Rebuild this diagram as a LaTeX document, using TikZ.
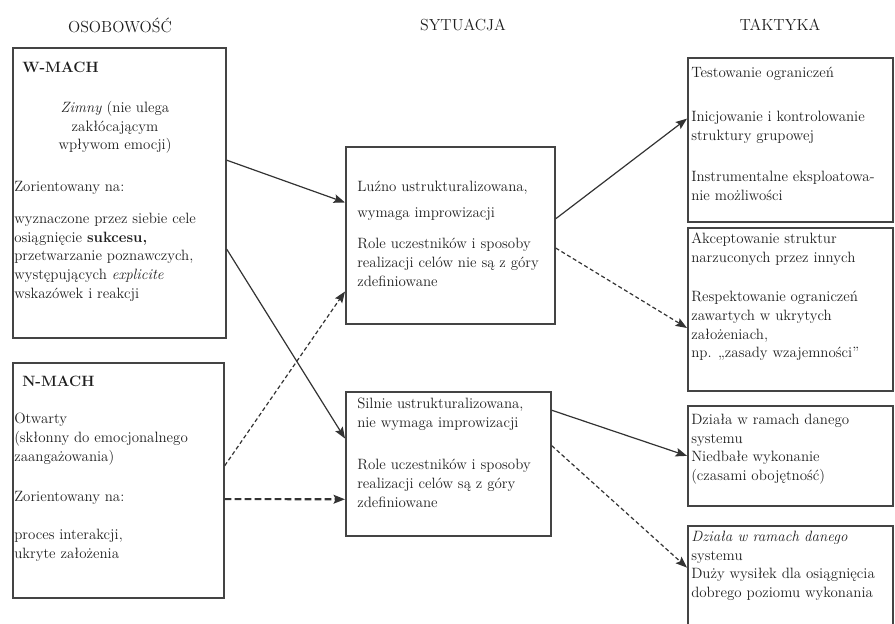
\documentclass[tikz,border=0pt]{standalone}
\usepackage{fontspec}
\usetikzlibrary{calc, arrows.meta}

\begin{document}
\begin{tikzpicture}[x=0.75pt, y=-0.75pt,
    box/.style 2 args={draw=boxColour, line width=1.3pt, anchor=north west, inner sep=0pt,
        minimum width=#1*0.75pt, minimum height=#2*0.75pt},
    txt/.style={font=\fontsize{11.2}{14}\selectfont, text=textColour, align=left,
        anchor=north west, inner sep=0pt, execute at begin node=\strut},
    head/.style={font=\fontsize{12}{14}\selectfont, text=textColour, inner sep=0pt},
    link/.style={draw=lineColour, line width=0.9pt, -{Stealth[length=8.5pt,width=6.5pt,inset=1.5pt]}},
    dlink/.style={link, dash pattern=on 3pt off 2pt}]
    % Define colors
    \definecolor{boxColour}{HTML}{444444}
    \definecolor{lineColour}{HTML}{333333}
    \definecolor{textColour}{HTML}{1E1E1E}

    % Fix the page size
    \useasboundingbox (0,0) rectangle (895,624);
    \clip (0,0) rectangle (895,624);

    % Column headings
    \node[head] (hPers) at (120,25) {OSOBOWOŚĆ};
    \node[head] (hSit) at (463,25) {SYTUACJA};
    \node[head] (hTac) at (780,25) {TAKTYKA};

    % Personality boxes
    \node[box={213}{290}] (wmach) at (12,47) {};
    \node[txt] (wTitle) at (22,59) {\textbf{W-MACH}};
    \node[txt, align=center, anchor=north] (wCold) at (115,101) {\textit{Zimny} (nie ulega\\zakłócającym\\wpływom emocji)};
    \node[txt] (wOrient) at (14,178) {Zorientowany na:};
    \node[txt] (wGoals) at (14,213) {wyznaczone przez siebie cele\\osiągnięcie \textbf{sukcesu,}\\przetwarzanie poznawczych,\\występujących \textit{explicite}\\wskazówek i reakcji};

    \node[box={211}{235}] (nmach) at (12,362) {};
    \node[txt] (nTitle) at (22,373) {\textbf{N-MACH}};
    \node[txt] (nOpen) at (14,413) {Otwarty\\(skłonny do emocjonalnego\\zaangażowania)};
    \node[txt] (nOrient) at (14,488) {Zorientowany na:};
    \node[txt] (nFocus) at (14,529) {proces interakcji,\\ukryte założenia};

    % Situation boxes
    \node[box={209}{177}] (sitloose) at (345,146) {};
    \node[txt] (slStruct) at (357,181) {Luźno ustrukturalizowana,\\[5pt]wymaga improwizacji};
    \node[txt] (slRoles) at (357,238) {Role uczestników i sposoby\\realizacji celów nie są z góry\\zdefiniowane};

    \node[box={205}{144}] (sitstrict) at (345,391) {};
    \node[txt] (ssStruct) at (357,398) {Silnie ustrukturalizowana,\\nie wymaga improwizacji};
    \node[txt] (ssRoles) at (357,459) {Role uczestników i sposoby\\realizacji celów są z góry\\zdefiniowane};

    % Tactics boxes
    \node[box={205}{164}] (tacTest) at (687,57) {};
    \node[txt] (ttLimits) at (691,64) {Testowanie ograniczeń};
    \node[txt] (ttInit) at (691,111) {Inicjowanie i kontrolowanie\\struktury grupowej};
    \node[txt] (ttExploit) at (691,171) {Instrumentalne eksploatowa-\\nie możliwości};

    \node[box={205}{163}] (tacAccept) at (687,227) {};
    \node[txt] (taImposed) at (691,233) {Akceptowanie struktur\\narzuconych przez innych};
    \node[txt] (taRespect) at (691,291) {Respektowanie ograniczeń\\zawartych w ukrytych\\założeniach,\\np. „zasady wzajemności”};

    \node[box={205}{100}] (tacCare) at (687,405) {};
    \node[txt] (tcSystem) at (691,414) {Działa w ramach danego\\systemu\\Niedbałe wykonanie\\(czasami obojętność)};

    \node[box={205}{120}] (tacEffort) at (687,525) {};
    \node[txt] (teSystem) at (691,531) {\textit{Działa w ramach danego}\\systemu\\Duży wysiłek dla osiągnięcia\\dobrego poziomu wykonania};

    % Personality to situation
    \draw[link] ($(wmach.north east)!0.388!(wmach.south east)$) -- ($(sitloose.north west)!0.316!(sitloose.south west)$);
    \draw[link] ($(wmach.north east)!0.693!(wmach.south east)$) -- ($(sitstrict.north west)!0.326!(sitstrict.south west)$);
    \draw[dlink] ($(nmach.north east)!0.438!(nmach.south east)$) -- ($(sitloose.north west)!0.814!(sitloose.south west)$);
    \draw[dlink, line width=1.6pt, dash pattern=on 5pt off 2.5pt] ($(nmach.north east)!0.579!(nmach.south east)$) -- ($(sitstrict.north west)!0.743!(sitstrict.south west)$);

    % Situation to tactics
    \draw[link] ($(sitloose.north east)!0.407!(sitloose.south east)$) -- ($(tacTest.north west)!0.372!(tacTest.south west)$);
    \draw[dlink] ($(sitloose.north east)!0.571!(sitloose.south east)$) -- ($(tacAccept.north west)!0.613!(tacAccept.south west)$);
    \draw[link] ($(sitstrict.north east)!0.132!(sitstrict.south east)$) -- ($(tacCare.north west)!0.5!(tacCare.south west)$);
    \draw[dlink] ($(sitstrict.north east)!0.375!(sitstrict.south east)$) -- ($(tacEffort.north west)!0.35!(tacEffort.south west)$);

\end{tikzpicture}
\end{document}
